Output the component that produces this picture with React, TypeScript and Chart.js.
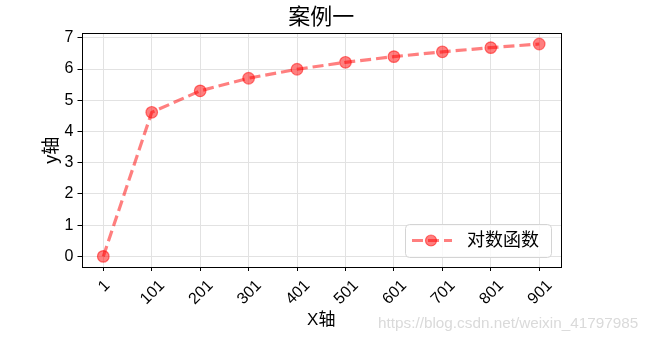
import React, { useEffect, useRef } from 'react';
import { Chart, registerables } from 'chart.js';

Chart.register(...registerables);

// ---- data ----
const xValues = [1, 101, 201, 301, 401, 501, 601, 701, 801, 901];
const yValues = [0, 4.615, 5.303, 5.707, 5.994, 6.217, 6.399, 6.553, 6.686, 6.803];
const yTicks = [0, 1, 2, 3, 4, 5, 6, 7];
const titleText = '案例一';
const xTitle = 'X轴';
const yTitle = 'y轴';
const seriesLabel = '对数函数';
const watermark = 'https://blog.csdn.net/weixin_41797985';

const FONT = "'Liberation Sans', 'Noto Sans CJK SC', sans-serif";
const RED = 'rgba(255,0,0,0.5)';
const GRID = '#e2e2e2';

const overlayPlugin = {
  id: 'overlay',
  afterDraw(chart: any) {
    const { ctx, chartArea: ca } = chart;
    const xs = chart.scales.x;
    ctx.save();
    // frame
    ctx.strokeStyle = '#000';
    ctx.lineWidth = 1;
    ctx.strokeRect(Math.round(ca.left) + 0.5, Math.round(ca.top) + 0.5,
      Math.round(ca.right) - Math.round(ca.left), Math.round(ca.bottom) - Math.round(ca.top));

    // rotated x tick labels, centred under the tick (matplotlib style)
    const fs = 16;
    ctx.font = `${fs}px ${FONT}`;
    ctx.fillStyle = '#000';
    const topY = ca.bottom + 11;
    xs.ticks.forEach((t: any) => {
      const px = xs.getPixelForValue(t.value);
      const label = String(t.value);
      const w = ctx.measureText(label).width;
      const h = fs * 0.72;
      const half = ((w + h) * Math.SQRT1_2) / 2;
      ctx.save();
      ctx.translate(px, topY + half);
      ctx.rotate(-Math.PI / 4);
      ctx.textAlign = 'center';
      ctx.textBaseline = 'alphabetic';
      ctx.fillText(label, 0, h / 2);
      ctx.restore();
    });

    // legend (lower right, inside axes)
    const bw = 146, bh = 33;
    const lx = ca.right - 10 - bw;
    const ly = ca.bottom - 10 - bh;
    ctx.beginPath();
    (ctx as any).roundRect(lx + 0.5, ly + 0.5, bw, bh, 4);
    ctx.fillStyle = 'rgba(255,255,255,0.8)';
    ctx.fill();
    ctx.strokeStyle = '#d4d4d4';
    ctx.lineWidth = 1;
    ctx.stroke();
    const cy = ly + bh / 2;
    ctx.beginPath();
    ctx.setLineDash([11, 5]);
    ctx.strokeStyle = RED;
    ctx.lineWidth = 3;
    ctx.moveTo(lx + 7, cy);
    ctx.lineTo(lx + 47, cy);
    ctx.stroke();
    ctx.setLineDash([]);
    ctx.beginPath();
    ctx.arc(lx + 26, cy, 5.5, 0, Math.PI * 2);
    ctx.fillStyle = RED;
    ctx.fill();
    ctx.lineWidth = 1.2;
    ctx.stroke();
    ctx.fillStyle = '#000';
    ctx.font = `18px ${FONT}`;
    ctx.textAlign = 'left';
    ctx.textBaseline = 'middle';
    ctx.fillText(chart.data.datasets[0].label, lx + 62, cy + 1);
    ctx.restore();
  },
};

export default function App() {
  const ref = useRef<HTMLCanvasElement>(null);
  useEffect(() => {
    if (!ref.current) return;
    const chart = new Chart(ref.current, {
      type: 'line',
      data: {
        datasets: [
          {
            label: seriesLabel,
            data: xValues.map((x, i) => ({ x, y: yValues[i] })),
            borderColor: RED,
            borderWidth: 3.2,
            borderDash: [11, 5],
            pointRadius: 5.8,
            pointBorderWidth: 1.2,
            pointBackgroundColor: RED,
            pointBorderColor: RED,
            tension: 0,
          },
        ],
      },
      options: {
        animation: false,
        responsive: false,
        events: [],
        layout: { padding: { left: 0, right: 89, top: 0, bottom: 0 } },
        plugins: {
          legend: { display: false },
          tooltip: { enabled: false },
          title: {
            display: true,
            fullSize: false,
            text: titleText,
            color: '#000',
            font: { size: 22, family: FONT, weight: 'normal' },
            padding: { top: 5, bottom: 2 },
          },
        },
        scales: {
          x: {
            type: 'linear',
            min: -44,
            max: 946,
            afterBuildTicks: (s: any) => {
              s.ticks = xValues.map((v) => ({ value: v }));
            },
            afterFit: (s: any) => {
              s.height = 76;
            },
            ticks: { display: false },
            grid: { color: GRID, tickColor: '#000', tickLength: 4, tickWidth: 1 },
            border: { display: false },
            title: {
              display: true,
              text: xTitle,
              color: '#000',
              font: { size: 17, family: FONT },
              padding: { top: 0, bottom: 12 },
            },
          },
          y: {
            type: 'linear',
            min: -0.34,
            max: 7.143,
            afterBuildTicks: (s: any) => {
              s.ticks = yTicks.map((v) => ({ value: v }));
            },
            afterFit: (s: any) => {
              s.width = 81.5;
            },
            ticks: { color: '#000', font: { size: 16, family: FONT }, padding: 4 },
            grid: { color: GRID, tickColor: '#000', tickLength: 4, tickWidth: 1 },
            border: { display: false },
            title: {
              display: true,
              text: yTitle,
              color: '#000',
              font: { size: 18, family: FONT },
              padding: { top: 41, bottom: 0 },
            },
          },
        },
      },
      plugins: [overlayPlugin],
    } as any);
    return () => chart.destroy();
  }, []);

  return (
    <div style={{ position: 'absolute', left: 0, top: 0, width: 650, height: 343, background: '#fff' }}>
      <canvas ref={ref} width={650} height={343} style={{ width: 650, height: 343, display: 'block' }} />
      <span
        style={{
          position: 'absolute',
          left: 378,
          top: 315,
          font: `15.3px ${FONT}`,
          lineHeight: '16px',
          color: '#dadada',
          whiteSpace: 'nowrap',
        }}
      >
        {watermark}
      </span>
    </div>
  );
}
